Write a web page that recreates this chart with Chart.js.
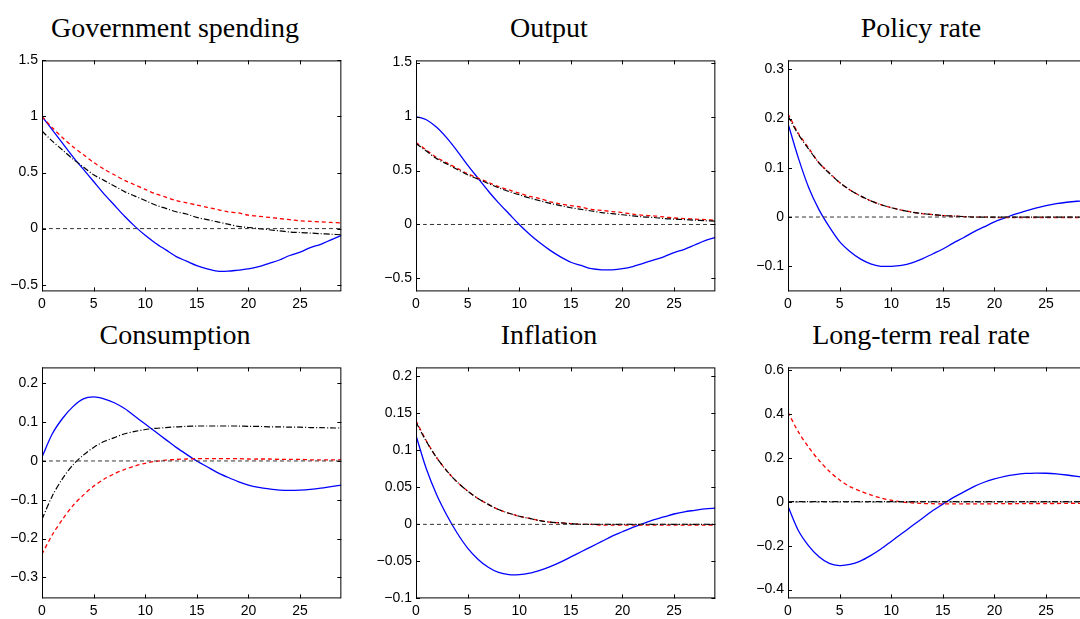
<!DOCTYPE html>
<html><head><meta charset="utf-8">
<script src="https://cdn.jsdelivr.net/npm/chart.js@4"></script>
<style>
body{margin:0;width:1080px;height:619px;overflow:hidden;background:#fff;position:relative}
.box{position:absolute}
.ttl{position:absolute;font-family:"Liberation Serif",serif;font-size:28px;color:#000;text-align:center;width:300px;white-space:nowrap}
</style></head><body>
<script>
const periods = Array.from({length: 30}, (_, i) => i);
const xTicks = [0, 5, 10, 15, 20, 25];

const titles = ['Government spending', 'Output', 'Policy rate', 'Consumption', 'Inflation', 'Long-term real rate'];

const govBlue = [1.0,0.88,0.76,0.64,0.53,0.42,0.31,0.21,0.11,0.02,-0.06,-0.13,-0.19,-0.25,-0.29,-0.33,-0.36,-0.38,-0.38,-0.37,-0.36,-0.34,-0.31,-0.28,-0.24,-0.21,-0.17,-0.14,-0.10,-0.06];
const govRed = [1,0.9,0.81,0.73,0.66,0.59,0.53,0.48,0.43,0.39,0.35,0.31,0.28,0.25,0.23,0.21,0.19,0.17,0.15,0.14,0.12,0.11,0.10,0.09,0.08,0.07,0.065,0.06,0.055,0.05];
const govBlack = [0.87,0.78,0.70,0.62,0.55,0.48,0.43,0.38,0.33,0.29,0.25,0.21,0.18,0.15,0.13,0.10,0.08,0.06,0.04,0.02,0.01,0.0,-0.01,-0.02,-0.03,-0.035,-0.04,-0.045,-0.05,-0.055];

const outBlue = [1.0,0.97,0.9,0.8,0.68,0.55,0.43,0.31,0.2,0.1,0.0,-0.09,-0.17,-0.24,-0.3,-0.35,-0.38,-0.41,-0.42,-0.42,-0.41,-0.39,-0.36,-0.33,-0.3,-0.26,-0.23,-0.19,-0.15,-0.12];
const outRed = [0.76,0.69,0.62,0.57,0.52,0.47,0.43,0.39,0.35,0.32,0.29,0.26,0.24,0.21,0.19,0.175,0.16,0.14,0.13,0.12,0.11,0.095,0.085,0.08,0.07,0.06,0.055,0.05,0.045,0.04];
const outBlack = [0.75,0.68,0.61,0.56,0.51,0.46,0.42,0.38,0.34,0.305,0.275,0.245,0.22,0.195,0.175,0.155,0.14,0.125,0.11,0.1,0.09,0.08,0.07,0.065,0.055,0.05,0.045,0.04,0.035,0.03];

const polBlue = [0.19,0.12,0.06,0.015,-0.02,-0.05,-0.07,-0.085,-0.095,-0.1,-0.1,-0.098,-0.093,-0.085,-0.075,-0.065,-0.053,-0.042,-0.03,-0.02,-0.01,-0.002,0.006,0.012,0.018,0.023,0.027,0.03,0.032,0.033];
const polRed = [0.21,0.17,0.14,0.11,0.09,0.07,0.055,0.043,0.033,0.025,0.019,0.014,0.01,0.007,0.005,0.003,0.002,0.001,0,0,-0.001,-0.001,-0.001,-0.001,-0.001,-0.001,-0.001,-0.001,-0.001,-0.001];
const polBlack = [0.205,0.168,0.138,0.11,0.089,0.07,0.055,0.043,0.033,0.025,0.019,0.014,0.01,0.007,0.005,0.003,0.002,0.001,0,0,0,0,0,0,0,0,0,0,0,0];

const conBlue = [0.01,0.07,0.11,0.14,0.16,0.165,0.16,0.15,0.135,0.115,0.095,0.075,0.055,0.035,0.017,0.0,-0.015,-0.03,-0.042,-0.053,-0.062,-0.068,-0.072,-0.075,-0.076,-0.075,-0.073,-0.07,-0.066,-0.062];
const conRed = [-0.24,-0.19,-0.15,-0.115,-0.088,-0.065,-0.047,-0.033,-0.022,-0.013,-0.006,-0.001,0.002,0.004,0.005,0.006,0.006,0.006,0.006,0.006,0.005,0.005,0.005,0.004,0.004,0.004,0.003,0.003,0.003,0.003];
const conBlack = [-0.15,-0.09,-0.045,-0.01,0.015,0.035,0.05,0.06,0.07,0.076,0.081,0.084,0.086,0.088,0.089,0.09,0.09,0.09,0.09,0.09,0.089,0.089,0.088,0.088,0.087,0.087,0.086,0.086,0.085,0.085];

const infBlue = [0.12,0.075,0.04,0.012,-0.012,-0.032,-0.047,-0.058,-0.065,-0.068,-0.068,-0.066,-0.062,-0.057,-0.051,-0.044,-0.037,-0.03,-0.023,-0.016,-0.01,-0.004,0.001,0.006,0.01,0.014,0.017,0.019,0.021,0.022];
const infRed = [0.14,0.113,0.09,0.072,0.057,0.045,0.035,0.027,0.02,0.015,0.011,0.008,0.005,0.003,0.002,0.001,0,0,-0.001,-0.001,-0.001,-0.001,-0.001,-0.001,-0.001,-0.001,-0.001,-0.001,-0.001,-0.001];
const infBlack = [0.138,0.112,0.09,0.072,0.057,0.045,0.035,0.027,0.02,0.015,0.011,0.008,0.005,0.003,0.002,0.001,0,0,0,0,0,0,0,0,0,0,0,0,0,0];

const ltrBlue = [-0.02,-0.13,-0.2,-0.25,-0.28,-0.29,-0.285,-0.27,-0.245,-0.215,-0.18,-0.145,-0.11,-0.075,-0.04,-0.01,0.02,0.045,0.07,0.09,0.105,0.117,0.125,0.13,0.132,0.131,0.128,0.123,0.117,0.11];
const ltrRed = [0.41,0.32,0.25,0.19,0.14,0.1,0.07,0.05,0.032,0.018,0.008,0.0,-0.004,-0.007,-0.008,-0.009,-0.009,-0.009,-0.009,-0.009,-0.008,-0.008,-0.008,-0.007,-0.007,-0.007,-0.007,-0.006,-0.006,-0.006];
const ltrBlack = [0.002,0.002,0.002,0.002,0.002,0.002,0.002,0.002,0.002,0.002,0.002,0.002,0.002,0.002,0.002,0.002,0.002,0.002,0.002,0.002,0.002,0.002,0.002,0.002,0.002,0.002,0.002,0.002,0.002,0.002];

const panels = [
  {blue: govBlue, red: govRed, black: govBlack, min: -0.56, max: 1.5, ticks: [-0.5, 0, 0.5, 1, 1.5]},
  {blue: outBlue, red: outRed, black: outBlack, min: -0.62, max: 1.52, ticks: [-0.5, 0, 0.5, 1, 1.5]},
  {blue: polBlue, red: polRed, black: polBlack, min: -0.151, max: 0.318, ticks: [-0.1, 0, 0.1, 0.2, 0.3]},
  {blue: conBlue, red: conRed, black: conBlack, min: -0.354, max: 0.241, ticks: [-0.3, -0.2, -0.1, 0, 0.1, 0.2]},
  {blue: infBlue, red: infRed, black: infBlack, min: -0.1, max: 0.212, ticks: [-0.1, -0.05, 0, 0.05, 0.1, 0.15, 0.2]},
  {blue: ltrBlue, red: ltrRed, black: ltrBlack, min: -0.44, max: 0.614, ticks: [-0.4, -0.2, 0, 0.2, 0.4, 0.6]}
];

const lefts = [42, 416, 788];
const tops = [60, 367];
const YW = 42, XH = 20, PW = 300, PH = 231;

// box around plot area with inward tick marks, matlab style
const frame = {
  id: 'frame',
  afterDraw(chart) {
    const {ctx, chartArea: a, scales} = chart;
    ctx.save();
    ctx.strokeStyle = '#000';
    ctx.lineWidth = 1;
    ctx.strokeRect(a.left + 0.5, a.top + 0.5, a.right - a.left - 1, a.bottom - a.top - 1);
    ctx.beginPath();
    scales.x.ticks.forEach(t => {
      const x = Math.round(scales.x.getPixelForValue(t.value)) + 0.5;
      ctx.moveTo(x, a.bottom); ctx.lineTo(x, a.bottom - 4);
      ctx.moveTo(x, a.top); ctx.lineTo(x, a.top + 4);
    });
    scales.y.ticks.forEach(t => {
      const y = Math.round(scales.y.getPixelForValue(t.value)) + 0.5;
      ctx.moveTo(a.left, y); ctx.lineTo(a.left + 4, y);
      ctx.moveTo(a.right, y); ctx.lineTo(a.right - 4, y);
    });
    ctx.stroke();
    ctx.restore();
  }
};

function fmt(v) {
  const s = String(Math.round(v * 1000) / 1000);
  return s.replace('-', '\u2212');
}

panels.forEach((p, i) => {
  const col = i % 3, row = Math.floor(i / 3);
  const box = document.createElement('div');
  box.className = 'box';
  box.style.left = (lefts[col] - YW) + 'px';
  box.style.top = tops[row] + 'px';
  box.style.width = (YW + PW) + 'px';
  box.style.height = (PH + XH) + 'px';
  const cv = document.createElement('canvas');
  box.appendChild(cv);
  document.body.appendChild(box);

  const t = document.createElement('div');
  t.className = 'ttl';
  t.textContent = titles[i];
  t.style.left = (lefts[col] - 17) + 'px';
  t.style.top = (tops[row] - 48) + 'px';
  document.body.appendChild(t);

  const mk = (d, color, dash, w) => ({
    data: d.map((y, k) => ({x: periods[k], y})),
    borderColor: color, borderWidth: w, borderDash: dash,
    pointRadius: 0, fill: false, tension: 0.3
  });

  const chart = new Chart(cv, {
    type: 'line',
    data: {
      datasets: [
        mk(periods.map(() => 0), '#333', [4, 3], 1),
        mk(p.black, '#000', [6, 2, 1, 2], 1.2),
        mk(p.red, '#ff0000', [4, 3], 1.3),
        mk(p.blue, '#0000ff', [], 1.3)
      ]
    },
    options: {
      responsive: true, maintainAspectRatio: false, animation: false,
      layout: {padding: 0},
      plugins: {legend: {display: false}, tooltip: {enabled: false}},
      scales: {
        x: {
          type: 'linear', min: 0, max: 29,
          afterBuildTicks: s => { s.ticks = xTicks.map(v => ({value: v})); },
          afterFit: s => { s.height = XH; },
          grid: {display: false, drawTicks: false}, border: {display: false},
          ticks: {color: '#000', maxRotation: 0, padding: 4, font: {family: 'Liberation Sans', size: 14}}
        },
        y: {
          min: p.min, max: p.max,
          afterBuildTicks: s => { s.ticks = p.ticks.map(v => ({value: v})); },
          afterFit: s => { s.width = YW; },
          grid: {display: false, drawTicks: false}, border: {display: false},
          ticks: {color: '#000', padding: 4, callback: v => fmt(v), font: {family: 'Liberation Sans', size: 14}}
        }
      }
    },
    plugins: [frame]
  });

  // compensate for the padding chart.js reserves above the plot
  const a = chart.chartArea;
  const dy = a.top;
  const extraH = PH - (a.bottom - a.top);
  box.style.top = (tops[row] - dy) + 'px';
  box.style.height = (PH + XH + extraH) + 'px';
  chart.resize();
});
</script>
</body></html>
